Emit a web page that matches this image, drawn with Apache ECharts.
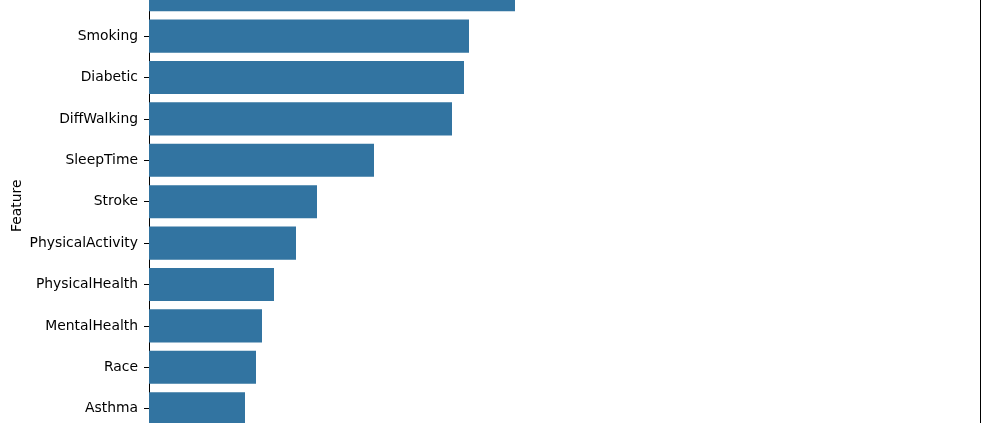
<!DOCTYPE html>
<html>
<head>
<meta charset="utf-8">
<script src="https://cdn.jsdelivr.net/npm/echarts@6/dist/echarts.min.js"></script>
<style>
html,body{margin:0;padding:0;background:#fff;overflow:hidden;width:989px;height:423px;position:relative;}
#chart{width:989px;height:480px;position:absolute;left:0;top:-26px;}
</style>
</head>
<body>
<div id="chart"></div>
<script>
// Feature names (top bar is cut off in the reference)
const features = ["Sex", "Smoking", "Diabetic", "DiffWalking", "SleepTime", "Stroke",
  "PhysicalActivity", "PhysicalHealth", "MentalHealth", "Race", "Asthma"];
// Importance values
const importance = [0.0732, 0.0640, 0.0630, 0.0606, 0.0450, 0.0336,
  0.0294, 0.0250, 0.0226, 0.0214, 0.0192];
const xMax = 0.1662;

const chart = echarts.init(document.getElementById('chart'), null, {renderer: 'canvas'});
chart.setOption({
  animation: false,
  backgroundColor: '#ffffff',
  grid: {
    left: 149, right: 9, top: 0, height: 455.4,
    show: false, containLabel: false, outerBoundsMode: 'none'
  },
  xAxis: {
    type: 'value', min: 0, max: xMax,
    axisLine: {show: false}, axisTick: {show: false},
    splitLine: {show: false}, axisLabel: {show: false}
  },
  yAxis: [{
    type: 'category', data: features, inverse: true, position: 'left',
    name: 'Feature', nameLocation: 'middle', nameGap: 125, nameMoveOverlap: false,
    nameTextStyle: {fontFamily: 'DejaVu Sans', fontSize: 13.9, color: '#000', padding: [0, 8, 0, 0]},
    axisLine: {show: true, lineStyle: {color: '#000', width: 1}},
    axisTick: {show: true, alignWithLabel: true, length: 5, lineStyle: {color: '#000', width: 1}},
    axisLabel: {fontFamily: 'DejaVu Sans', fontSize: 13.9, color: '#000', margin: 11, padding: [2, 0, 0, 0]},
    splitLine: {show: false}
  }, {
    type: 'category', data: features, inverse: true, position: 'right',
    axisLine: {show: true, lineStyle: {color: '#000', width: 1}},
    axisTick: {show: false}, axisLabel: {show: false}, splitLine: {show: false}
  }],
  series: [{
    type: 'bar', data: importance, barWidth: '80%', yAxisIndex: 0,
    itemStyle: {color: '#3274a1'}
  }]
});
</script>
</body>
</html>
